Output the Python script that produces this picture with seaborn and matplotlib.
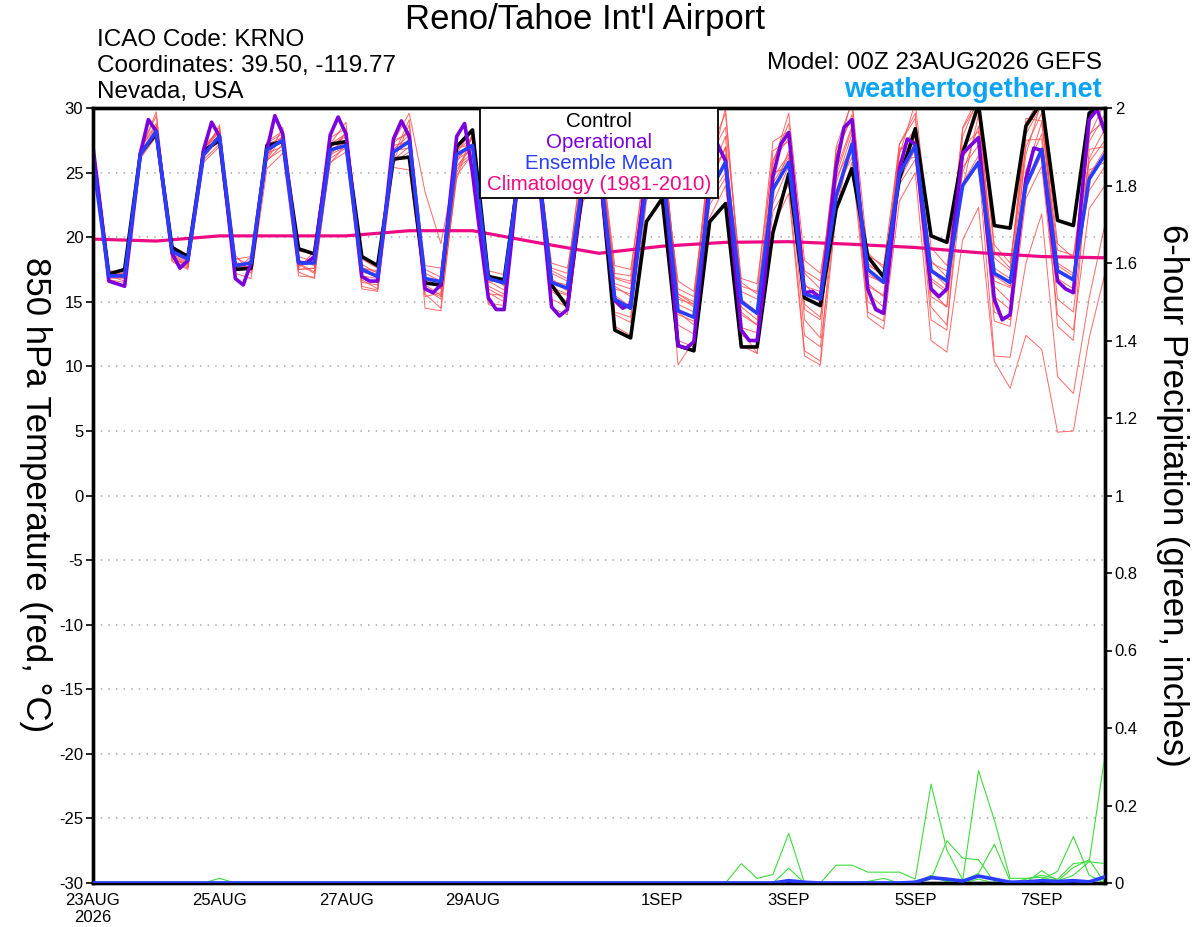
import numpy as np
import pandas as pd
import matplotlib
matplotlib.use("Agg")
import matplotlib.pyplot as plt
from matplotlib.patches import Rectangle
import seaborn as sns

# ---- data ----
hours = list(range(0, 385, 6))          # 6-hourly GEFS steps
hours_op = list(range(0, 385, 3))       # 3-hourly operational GFS
hours_clim = list(range(0, 385, 24))    # daily climatology

control = [26.5, 17.15, 17.5, 26.5, 28.0, 19.2, 18.5, 26.7, 27.5, 17.5, 17.6, 27.1,
           27.4, 19.1, 18.7, 27.2, 27.4, 18.5, 17.8, 26.05, 26.2, 16.45, 16.3, 27.0,
           28.3, 16.95, 16.7, 25.5, 27.0, 16.3, 14.6, 24.0, 26.0, 12.8, 12.2, 21.2,
           23.0, 11.6, 11.2, 21.2, 22.6, 11.5, 11.5, 20.35, 24.9, 15.3, 14.7, 22.2,
           25.3, 18.5, 16.9, 24.5, 28.4, 20.1, 19.6, 26.5, 30.3, 20.9, 20.7, 28.6,
           30.5, 21.3, 20.9, 29.6, 30.5]

ens_mean = [25.9, 17.0, 17.0, 26.4, 28.2, 18.9, 18.3, 26.4, 27.8, 17.8, 18.0, 26.75,
            27.5, 18.0, 18.0, 26.75, 27.1, 17.5, 16.95, 26.6, 27.4, 16.8, 16.55, 26.4,
            27.1, 16.8, 16.45, 25.5, 27.0, 16.5, 16.05, 24.5, 26.0, 15.2, 14.5, 24.0,
            25.5, 14.3, 13.8, 23.5, 25.8, 15.0, 14.1, 23.7, 25.8, 15.6, 15.2, 23.2,
            27.2, 17.5, 16.5, 24.9, 27.1, 17.4, 16.6, 24.0, 25.8, 17.2, 16.5, 24.0,
            26.8, 17.4, 16.7, 24.5, 26.4]

operational = [27.0, 22.0, 16.6, 16.4, 16.2, 21.3, 26.5, 29.1, 28.2, 23.4, 18.75, 17.6,
               18.2, 22.4, 26.8, 28.9, 27.8, 22.4, 16.8, 16.3, 18.0, 22.5, 26.75, 29.4,
               28.0, 23.0, 18.05, 18.0, 18.5, 23.0, 27.9, 29.3, 28.0, 22.5, 16.95, 16.6,
               16.6, 22.0, 27.6, 29.0, 27.8, 22.0, 16.0, 15.7, 16.3, 22.0, 27.8, 28.8,
               25.0, 20.0, 15.3, 14.4, 14.4, 20.0, 26.0, 28.0, 27.0, 21.0, 14.6, 13.9,
               14.4, 19.5, 24.5, 26.5, 25.5, 20.0, 15.1, 14.5, 14.8, 20.0, 25.0, 27.0,
               26.0, 19.0, 11.6, 11.4, 11.9, 18.0, 24.5, 27.2, 25.9, 19.0, 12.8, 12.0,
               12.0, 17.0, 24.7, 27.2, 28.1, 22.0, 15.7, 15.8, 15.3, 20.0, 25.5, 28.5,
               29.1, 22.5, 16.0, 14.4, 14.1, 19.5, 25.3, 27.6, 27.2, 21.5, 16.0, 15.4,
               16.0, 21.5, 26.5, 27.1, 27.7, 21.0, 15.2, 13.6, 14.0, 19.5, 24.5, 26.9,
               26.7, 21.5, 16.6, 16.0, 15.7, 22.9, 29.1, 29.9, 28.1]

climatology = [19.85, 19.7, 20.1, 20.1, 20.1, 20.5, 20.5, 19.6, 18.75, 19.3, 19.6,
               19.65, 19.45, 19.2, 18.8, 18.5, 18.4]

# ensemble members (850 hPa temperature, C)
mem01 = [26.8, 17.2, 17.0, 26.6, 28.5, 19.0, 18.2, 26.2, 27.6, 17.6, 18.2, 26.5, 27.0, 18.2, 17.8, 27.0,
         27.8, 17.0, 16.8, 26.8, 27.9, 16.9, 16.0, 26.8, 27.6, 16.2, 15.6, 25.8, 27.5, 16.8, 15.8, 24.8,
         26.5, 15.5, 14.6, 23.8, 25.8, 14.8, 14.2, 24.5, 26.9, 15.8, 15.2, 22.6, 25.5, 16.4, 15.0, 24.2,
         28.0, 17.8, 17.2, 25.5, 27.5, 18.2, 16.9, 25.0, 28.6, 17.0, 16.2, 25.2, 28.0, 17.5, 16.8, 23.6, 25.5]
mem02 = [26.5, 16.8, 16.9, 26.3, 28.0, 18.6, 17.9, 26.8, 28.3, 18.1, 17.4, 26.0, 27.9, 17.6, 18.9, 26.4,
         27.0, 17.9, 17.2, 25.8, 26.6, 17.5, 16.9, 25.3, 26.3, 15.7, 15.0, 27.2, 28.6, 15.2, 14.6, 25.6,
         27.2, 14.0, 13.4, 24.6, 26.8, 13.2, 12.5, 23.1, 25.0, 13.0, 12.6, 25.9, 28.8, 16.2, 15.8, 26.3,
         29.5, 17.0, 16.5, 24.1, 26.0, 15.4, 14.6, 27.8, 30.8, 18.9, 17.6, 28.0, 30.2, 19.5, 18.4, 25.8, 27.5]
mem03 = [27.0, 17.0, 16.6, 26.8, 29.4, 18.7, 18.0, 26.9, 28.1, 17.9, 17.5, 27.2, 27.7, 17.3, 16.8, 26.2,
         28.2, 16.2, 15.9, 25.9, 28.7, 16.3, 15.5, 24.8, 26.4, 14.8, 14.3, 24.9, 26.8, 15.9, 15.5, 23.2,
         25.8, 13.1, 12.4, 22.8, 24.9, 12.0, 11.5, 21.5, 24.0, 12.8, 11.0, 20.8, 23.4, 10.8, 10.1, 21.9,
         25.8, 13.8, 12.9, 22.8, 25.0, 12.0, 11.1, 19.8, 22.3, 10.4, 8.3, 12.4, 11.3, 4.9, 5.0, 12.2, 17.2]
mem04 = [26.4, 17.1, 17.2, 26.4, 28.1, 19.3, 18.6, 26.0, 27.2, 18.3, 18.5, 26.0, 26.8, 18.9, 18.8, 26.5,
         27.4, 18.3, 17.6, 26.0, 27.0, 17.8, 17.6, 26.1, 27.2, 17.2, 16.2, 26.0, 27.6, 17.4, 16.8, 25.4,
         27.4, 16.8, 16.4, 25.2, 26.2, 15.6, 14.8, 23.4, 26.0, 16.5, 15.6, 24.6, 26.4, 14.8, 13.8, 22.8,
         26.8, 18.0, 16.9, 26.6, 28.4, 16.6, 15.7, 23.9, 25.6, 10.8, 10.7, 18.0, 21.8, 9.2, 7.9, 15.3, 21.0]
mem05 = [26.9, 17.4, 17.3, 26.9, 28.6, 18.4, 17.7, 27.1, 28.2, 18.6, 17.2, 27.3, 28.0, 17.8, 18.3, 27.7,
         28.4, 18.4, 17.9, 27.4, 29.6, 23.5, 19.5, 25.8, 27.9, 16.0, 15.3, 27.5, 28.4, 17.2, 16.6, 26.8,
         28.0, 16.9, 16.6, 25.2, 27.6, 15.6, 15.0, 26.6, 29.6, 16.2, 15.8, 27.4, 28.2, 17.4, 16.6, 26.3,
         30.6, 18.6, 17.8, 27.2, 29.2, 17.6, 16.5, 28.5, 31.0, 19.4, 18.0, 27.0, 29.6, 18.0, 17.2, 28.0, 29.0]
mem06 = [26.2, 16.9, 16.8, 26.1, 27.8, 18.2, 17.6, 25.8, 27.0, 17.2, 16.8, 25.3, 26.5, 17.0, 16.9, 25.8,
         26.6, 16.0, 15.8, 25.4, 25.2, 15.6, 14.5, 25.5, 26.5, 14.9, 14.7, 25.8, 26.2, 14.5, 14.0, 24.1,
         25.4, 14.2, 13.8, 25.2, 24.3, 10.1, 12.0, 22.5, 24.6, 11.6, 11.0, 22.0, 24.1, 11.2, 10.4, 24.6,
         27.0, 14.2, 13.5, 25.0, 27.2, 14.6, 13.2, 24.2, 26.3, 13.5, 13.1, 23.0, 25.5, 14.0, 12.8, 22.2, 24.0]
mem07 = [26.6, 17.3, 17.4, 26.5, 28.3, 19.1, 18.3, 26.5, 28.0, 18.0, 17.9, 26.9, 27.3, 18.5, 18.1, 26.7,
         27.5, 17.3, 17.0, 26.7, 26.9, 16.0, 15.2, 24.5, 28.1, 17.4, 17.1, 26.2, 29.0, 16.1, 15.6, 26.0,
         27.0, 17.2, 17.0, 26.8, 26.0, 16.6, 15.8, 25.0, 30.0, 15.2, 14.2, 26.7, 27.4, 15.8, 15.0, 25.2,
         28.6, 16.2, 15.5, 26.4, 30.4, 19.2, 17.8, 23.8, 29.5, 17.6, 16.8, 26.4, 30.6, 16.8, 16.0, 26.1, 28.4]
mem08 = [26.7, 17.1, 17.0, 26.7, 29.7, 18.5, 17.8, 26.4, 28.7, 17.7, 17.4, 26.1, 28.5, 17.9, 17.2, 27.2,
         28.9, 16.7, 16.0, 27.3, 28.2, 15.4, 15.7, 26.9, 27.2, 17.1, 16.5, 27.0, 28.0, 15.8, 15.0, 25.3,
         26.9, 16.2, 15.4, 24.0, 27.5, 14.0, 13.5, 24.8, 27.8, 12.4, 11.8, 23.4, 26.7, 13.6, 12.2, 27.0,
         30.5, 15.6, 14.6, 26.9, 26.6, 13.6, 12.8, 26.5, 29.8, 14.2, 13.6, 27.5, 27.6, 13.1, 12.0, 26.8, 27.0]
mem09 = [26.3, 16.7, 16.5, 26.2, 27.9, 18.9, 18.4, 26.7, 27.3, 18.4, 17.8, 25.9, 27.2, 18.0, 17.3, 26.1,
         26.9, 17.6, 17.4, 27.1, 27.4, 17.2, 16.6, 26.0, 26.8, 16.5, 16.8, 25.2, 26.1, 16.4, 16.0, 22.8,
         24.5, 15.0, 14.4, 26.1, 26.2, 15.2, 14.8, 25.6, 26.4, 14.6, 13.6, 25.0, 25.4, 12.4, 11.5, 22.0,
         27.6, 18.8, 17.6, 25.9, 26.2, 16.8, 15.9, 27.0, 28.2, 16.2, 15.0, 25.0, 28.9, 19.0, 18.6, 27.4, 29.5]
mem10 = [27.1, 17.2, 17.1, 26.9, 28.8, 18.8, 18.1, 26.8, 28.5, 17.5, 17.6, 27.4, 28.2, 17.5, 17.6, 27.2,
         28.0, 17.6, 17.3, 26.3, 29.1, 15.9, 15.4, 26.5, 28.4, 16.6, 15.9, 26.9, 27.8, 17.6, 17.2, 26.6,
         27.9, 17.8, 17.5, 25.9, 27.2, 16.0, 15.4, 26.2, 28.5, 16.8, 16.4, 26.0, 27.6, 17.2, 16.0, 26.8,
         29.2, 16.4, 15.4, 24.7, 27.8, 18.0, 17.4, 28.4, 30.5, 16.6, 16.1, 28.8, 31.0, 16.5, 15.6, 27.8, 30.5]
mem11 = [26.0, 16.9, 17.3, 26.3, 28.4, 18.1, 17.5, 27.0, 27.8, 17.4, 18.5, 26.4, 27.8, 17.8, 18.2, 25.7,
         27.2, 17.5, 17.1, 27.5, 28.0, 16.6, 16.2, 25.5, 27.0, 15.6, 15.5, 26.4, 27.2, 18.0, 17.6, 24.4,
         25.8, 16.0, 15.6, 25.6, 28.0, 15.4, 14.6, 24.2, 25.6, 14.2, 13.2, 25.6, 29.6, 18.2, 17.2, 24.8,
         28.4, 17.2, 16.4, 27.2, 29.6, 15.8, 14.6, 25.4, 27.1, 18.4, 17.4, 29.2, 29.0, 17.8, 17.0, 24.8, 26.8]
mem12 = [26.5, 17.0, 16.9, 26.5, 28.2, 18.3, 17.9, 26.3, 27.6, 17.8, 17.7, 26.8, 27.5, 17.5, 17.6, 26.9,
         28.0, 16.5, 16.3, 26.6, 27.6, 14.5, 14.3, 25.0, 27.8, 16.8, 16.4, 25.6, 26.8, 16.6, 16.3, 25.2,
         26.2, 16.4, 16.0, 25.4, 26.6, 14.2, 13.2, 24.0, 27.0, 14.0, 13.2, 24.2, 26.2, 14.4, 13.6, 23.6,
         26.2, 15.0, 14.2, 24.4, 26.8, 17.4, 16.2, 26.2, 27.8, 15.4, 14.4, 23.8, 26.4, 15.2, 14.2, 25.2, 25.8]
members = [mem01, mem02, mem03, mem04, mem05, mem06, mem07, mem08, mem09, mem10, mem11, mem12]

# 6-hour precipitation (inches)
z = 0.0
pcp01 = [z] * 41 + [0.05, 0.012, 0.022, 0.128, 0.0, 0.0, 0.046, 0.046, 0.028, 0.028, 0.028, 0.01,
                    0.255, 0.085, 0.008, 0.29, 0.163, 0.012, 0.012, 0.015, 0.005, 0.02, 0.055, 0.33]
pcp02 = [z] * 8 + [0.012] + [z] * 35 + [0.038, 0.0, 0.0, 0.0, 0.0, 0.0, 0.0, 0.0, 0.0,
                                        0.01, 0.109, 0.064, 0.06, 0.003, 0.0, 0.0, 0.032, 0.005, 0.04, 0.06, 0.0]
pcp03 = [z] * 52 + [0.005, 0.015, 0.005, 0.005, 0.025, 0.1, 0.005, 0.0, 0.01, 0.03, 0.12, 0.02, 0.0]
pcp04 = [z] * 49 + [0.004, 0.012, 0.0, 0.0, 0.02, 0.003, 0.0, 0.01, 0.0, 0.0, 0.01, 0.02, 0.01,
                    0.05, 0.055, 0.05]
pcp_members = [pcp01, pcp02, pcp03, pcp04]
pcp_mean = [z] * 44 + [0.006, 0.002, 0.0, 0.0, 0.0, 0.0, 0.0, 0.0, 0.002, 0.014, 0.01, 0.005,
                       0.018, 0.01, 0.002, 0.003, 0.006, 0.004, 0.006, 0.003, 0.016]

# 23, 25, 27, 29 Aug, then 1, 3, 5, 7 Sep (August has 31 days)
tick_hours = [0, 48, 96, 144, 216, 264, 312, 360]
tick_labels = ["23AUG\n2026", "25AUG", "27AUG", "29AUG", "1SEP", "3SEP", "5SEP", "7SEP"]

# ---- styling ----
C_MEM = "#ff4d4d"
C_PCP = "#3ddc3d"
C_OP = "#7a00dd"
C_MEAN = "#2a3dff"
C_CLIM = "#ee0a84"

sns.set_style("white")
plt.rcParams["font.family"] = ["Liberation Sans", "DejaVu Sans"]
plt.rcParams["axes.unicode_minus"] = False
plt.rcParams["text.color"] = "black"
plt.rcParams["xtick.color"] = "black"
plt.rcParams["ytick.color"] = "black"
plt.rcParams["xtick.labelcolor"] = "black"
plt.rcParams["ytick.labelcolor"] = "black"

fig = plt.figure(figsize=(12, 9.27), dpi=100)
ax = fig.add_axes([93 / 1200, 44 / 927, 1012 / 1200, 775 / 927])

mem_df = pd.DataFrame({
    "hour": hours * len(members),
    "temp": sum(members, []),
    "member": np.repeat(np.arange(len(members)), len(hours)),
})
sns.lineplot(data=mem_df, x="hour", y="temp", units="member", estimator=None,
             color=C_MEM, lw=0.7, alpha=0.85, ax=ax, zorder=2)
sns.lineplot(x=hours_clim, y=climatology, color=C_CLIM, lw=2.3, ax=ax, zorder=3)
sns.lineplot(x=hours, y=control, color="black", lw=2.6, ax=ax, zorder=4)
sns.lineplot(x=hours_op, y=operational, color=C_OP, lw=2.6, ax=ax, zorder=5)
sns.lineplot(x=hours, y=ens_mean, color=C_MEAN, lw=2.6, ax=ax, zorder=6)

ax.set_xlim(0, 384)
ax.set_ylim(-30, 30)
ax.set_yticks(range(-30, 31, 5))
ax.set_xticks(tick_hours)
ax.set_xticklabels(tick_labels)
for yv in range(-25, 30, 5):
    ax.axhline(yv, color="#aaaaaa", lw=1.1, ls=(0, (1, 4)), zorder=1)
ax.set_xlabel("")
ax.set_ylabel("")
ax.tick_params(axis="both", direction="out", length=5, width=1.2, labelsize=12, pad=2)
for sp in ax.spines.values():
    sp.set_linewidth(2.4)
    sp.set_color("black")

ax2 = ax.twinx()
pcp_df = pd.DataFrame({
    "hour": hours * len(pcp_members),
    "pcp": sum(pcp_members, []),
    "member": np.repeat(np.arange(len(pcp_members)), len(hours)),
})
sns.lineplot(data=pcp_df, x="hour", y="pcp", units="member", estimator=None,
             color=C_PCP, lw=0.8, ax=ax2, zorder=2)
sns.lineplot(x=hours, y=pcp_mean, color=C_MEAN, lw=2.6, ax=ax2, zorder=3)
ax2.set_ylim(0, 2)
ax2.set_xlim(0, 384)
ax2.set_yticks(np.arange(0, 2.01, 0.2))
ax2.set_yticklabels(["0", "0.2", "0.4", "0.6", "0.8", "1", "1.2", "1.4", "1.6", "1.8", "2"])
ax2.set_ylabel("")
ax2.tick_params(axis="y", direction="out", length=5, width=1.2, labelsize=12, pad=2)
for sp in ax2.spines.values():
    sp.set_linewidth(2.4)
    sp.set_color("black")

# legend box
ax2.add_patch(Rectangle((0.382, 0.884), 0.236, 0.116, transform=ax2.transAxes,
                        facecolor="white", edgecolor="black", lw=1.3, zorder=10))
leg = [("Control", "black", 0.983), ("Operational", C_OP, 0.956),
       ("Ensemble Mean", C_MEAN, 0.929), ("Climatology (1981-2010)", C_CLIM, 0.901)]
for txt, col, yy in leg:
    ax2.text(0.5, yy, txt, color=col, fontsize=14.8, ha="center", va="center",
             transform=ax2.transAxes, zorder=11)

# titles and labels
fig.text(585 / 1200, 1 - 19 / 927, "Reno/Tahoe Int'l Airport", fontsize=25, ha="center", va="center")
fig.text(97 / 1200, 1 - 40 / 927, "ICAO Code: KRNO", fontsize=17.5, ha="left", va="center")
fig.text(97 / 1200, 1 - 66 / 927, "Coordinates: 39.50, -119.77", fontsize=17.5, ha="left", va="center")
fig.text(97 / 1200, 1 - 92 / 927, "Nevada, USA", fontsize=17.5, ha="left", va="center")
fig.text(1102 / 1200, 1 - 63 / 927, "Model: 00Z 23AUG2026 GEFS", fontsize=17.5, ha="right", va="center")
fig.text(1102 / 1200, 1 - 90 / 927, "weathertogether.net", fontsize=19.5, fontweight="bold",
         color="#0aa3f5", ha="right", va="center")
fig.text(35 / 1200, 1 - 495 / 927, "850 hPa Temperature (red, \u00b0C)", fontsize=25,
         rotation=270, ha="center", va="center")
fig.text(1172 / 1200, 1 - 495 / 927, "6-hour Precipitation (green, inches)", fontsize=25,
         rotation=270, ha="center", va="center")

fig.savefig("out.png", dpi=100)
